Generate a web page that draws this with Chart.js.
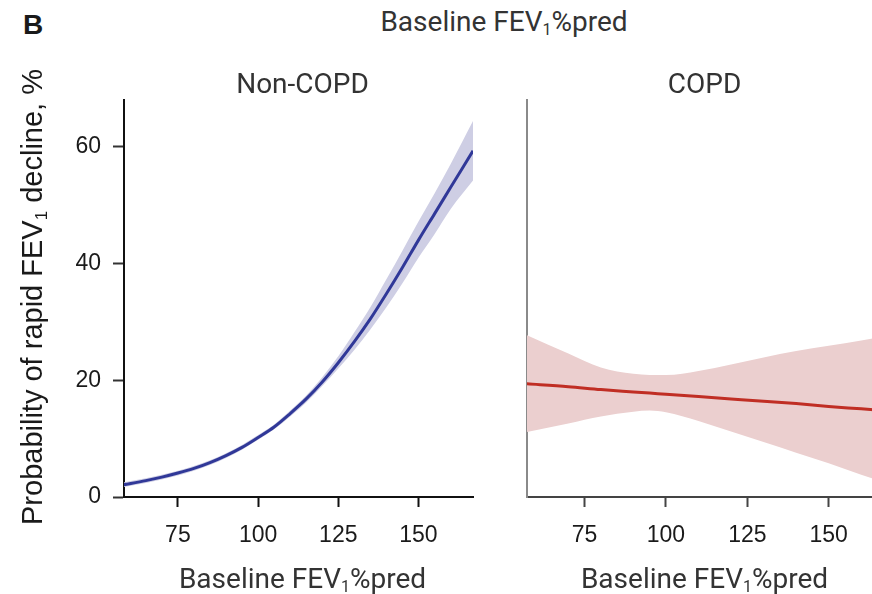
<!DOCTYPE html>
<html>
<head>
<meta charset="utf-8">
<script src="https://cdn.jsdelivr.net/npm/chart.js@4/dist/chart.umd.min.js"></script>
<style>
  html, body { margin: 0; padding: 0; background: #fff; overflow: hidden; }
  body { width: 872px; height: 594px; position: relative; }
  .panel { position: absolute; top: 0; height: 594px; }
  #left { left: 0; width: 490px; }
  #right { left: 490px; width: 400px; }
  .hdr { position: absolute; line-height: 28px; white-space: nowrap; }
  #tag { left: 23px; top: 9px; font: bold 28px "Liberation Sans", Arial, sans-serif; color: #1a1a1a; }
  #main { left: 0; width: 1008px; top: 5px; text-align: center; font: 28px Roboto, sans-serif; color: #333; }
  #main span { font-size: 16px; position: relative; top: 4px; }
</style>
</head>
<body>
<div class="hdr" id="tag">B</div>
<div class="hdr" id="main">Baseline FEV<span>1</span>%pred</div>
<div class="panel" id="left"><canvas id="nonCopd"></canvas></div>
<div class="panel" id="right"><canvas id="copd"></canvas></div>
<script>
// Non-COPD: predicted probability and 95% band
const nonCopdX = [58, 65, 70, 75, 80, 85, 90, 95, 100, 105, 110, 115, 120, 125, 130, 135, 140, 145, 150, 155, 160, 167];
const nonCopdFit = [2.1, 2.8, 3.4, 4.1, 4.9, 5.9, 7.1, 8.5, 10.2, 12.0, 14.3, 16.8, 19.7, 23.0, 26.6, 30.5, 34.8, 39.3, 44.0, 48.5, 53.0, 59.3];
const nonCopdLow = [1.7, 2.4, 3.0, 3.7, 4.5, 5.5, 6.7, 8.1, 9.8, 11.6, 13.8, 16.2, 19.0, 22.0, 25.2, 28.7, 32.5, 36.6, 41.0, 45.0, 49.3, 54.2];
const nonCopdHigh = [2.5, 3.2, 3.8, 4.5, 5.3, 6.3, 7.5, 8.9, 10.6, 12.4, 14.8, 17.4, 20.5, 24.1, 28.2, 32.5, 37.3, 42.2, 47.2, 52.0, 57.0, 64.4];

// COPD
const copdX = [57, 70, 80, 90, 95, 100, 110, 120, 130, 140, 150, 160, 167];
const copdFit = [19.4, 18.9, 18.4, 18.0, 17.8, 17.6, 17.2, 16.8, 16.4, 16.0, 15.5, 15.1, 14.8];
const copdLow = [11.1, 12.6, 13.8, 14.6, 14.8, 14.5, 13.0, 11.2, 9.4, 7.6, 5.8, 3.8, 2.5];
const copdHigh = [27.8, 24.6, 22.2, 21.1, 20.9, 20.9, 21.6, 22.7, 23.9, 25.0, 25.9, 26.8, 27.5];

const xTicks = [75, 100, 125, 150];
const yTicks = [0, 20, 40, 60];
// text pieces: [text, isSubscript]
const xTitle = [["Baseline FEV", false], ["1", true], ["%pred", false]];
const yTitle = [["Probability of rapid FEV", false], ["1", true], [" decline, %", false]];

const pts = (xs, ys) => xs.map((x, i) => ({ x: x, y: ys[i] }));

// draws a label with a small lowered subscript, centred on (cx, baseline)
function richText(ctx, parts, cx, y, family, size) {
  const sub = Math.round(size * 0.58);
  const fontFor = isSub => (isSub ? sub : size) + "px " + family;
  let total = 0;
  parts.forEach(([t, isSub]) => { ctx.font = fontFor(isSub); total += ctx.measureText(t).width; });
  let x = cx - total / 2;
  ctx.textAlign = "left";
  ctx.textBaseline = "alphabetic";
  parts.forEach(([t, isSub]) => {
    ctx.font = fontFor(isSub);
    ctx.fillText(t, x, isSub ? y + size * 0.16 : y);
    x += ctx.measureText(t).width;
  });
}

const panelText = {
  id: "panelText",
  afterDraw(chart, args, opts) {
    const { ctx, chartArea } = chart;
    const cx = (chartArea.left + chartArea.right) / 2 + opts.shift;
    ctx.save();
    ctx.fillStyle = "#333";
    ctx.font = "28px Roboto, sans-serif";
    ctx.textAlign = "center";
    ctx.textBaseline = "alphabetic";
    ctx.fillText(opts.title, cx, 93);
    richText(ctx, xTitle, cx, 588, "Roboto, sans-serif", 28);
    if (opts.yLabel) {
      ctx.fillStyle = "#1a1a1a";
      ctx.translate(42, 297);
      ctx.rotate(-Math.PI / 2);
      richText(ctx, yTitle, 0, 0, "'Liberation Sans', Arial, sans-serif", 29);
    }
    ctx.restore();
  }
};

function makePanel(id, cfg) {
  const tickFont = { family: "'Liberation Sans', Arial, sans-serif", size: 23 };
  return new Chart(document.getElementById(id), {
    type: "line",
    data: {
      datasets: [
        {
          data: pts(cfg.x, cfg.fit),
          borderColor: cfg.line,
          borderWidth: 3,
          pointRadius: 0,
          cubicInterpolationMode: "monotone",
          fill: false
        },
        {
          data: pts(cfg.x, cfg.low),
          borderWidth: 0,
          borderColor: "rgba(0,0,0,0)",
          pointRadius: 0,
          cubicInterpolationMode: "monotone",
          fill: false
        },
        {
          data: pts(cfg.x, cfg.high),
          borderWidth: 0,
          borderColor: "rgba(0,0,0,0)",
          backgroundColor: cfg.band,
          pointRadius: 0,
          cubicInterpolationMode: "monotone",
          fill: "-1"
        }
      ]
    },
    options: {
      responsive: true,
      maintainAspectRatio: false,
      animation: false,
      layout: { padding: { top: 100, left: 0, right: cfg.padRight, bottom: 0 } },
      plugins: {
        legend: { display: false },
        tooltip: { enabled: false },
        panelText: { title: cfg.title, yLabel: cfg.yLabel, shift: cfg.shift }
      },
      scales: {
        x: {
          type: "linear",
          min: cfg.xMin,
          max: 167,
          afterBuildTicks: s => { s.ticks = xTicks.map(v => ({ value: v })); },
          afterFit: s => { s.height = 97; },
          ticks: { font: tickFont, color: "#1a1a1a", padding: 15 },
          grid: { drawOnChartArea: false, tickLength: 10, tickWidth: 2, tickColor: cfg.xAxisColor },
          border: { color: cfg.xAxisColor, width: 2 }
        },
        y: {
          min: 0,
          max: 68,
          afterBuildTicks: s => { s.ticks = yTicks.map(v => ({ value: v })); },
          afterFit: s => { s.width = cfg.yWidth; },
          ticks: { display: cfg.yLabels, font: tickFont, color: "#1a1a1a", padding: 12 },
          grid: {
            drawOnChartArea: false,
            drawTicks: cfg.yLabels,
            tickLength: 11,
            tickWidth: 2,
            tickColor: "#333"
          },
          border: { color: cfg.yAxisColor, width: 2 }
        }
      }
    },
    plugins: [panelText]
  });
}

makePanel("nonCopd", {
  x: nonCopdX, fit: nonCopdFit, low: nonCopdLow, high: nonCopdHigh,
  line: "rgb(48,56,152)", band: "rgb(206,206,228)",
  title: "Non-COPD", yLabel: true, yLabels: true, shift: 4,
  xMin: 58.2, yWidth: 124, padRight: 17,
  xAxisColor: "#111", yAxisColor: "#111"
});

makePanel("copd", {
  x: copdX, fit: copdFit, low: copdLow, high: copdHigh,
  line: "rgb(192,46,36)", band: "rgb(235,207,207)",
  title: "COPD", yLabel: false, yLabels: false, shift: -1,
  xMin: 57.3, yWidth: 37, padRight: 6,
  xAxisColor: "#444", yAxisColor: "#8a8a8a"
});
</script>
</body>
</html>
